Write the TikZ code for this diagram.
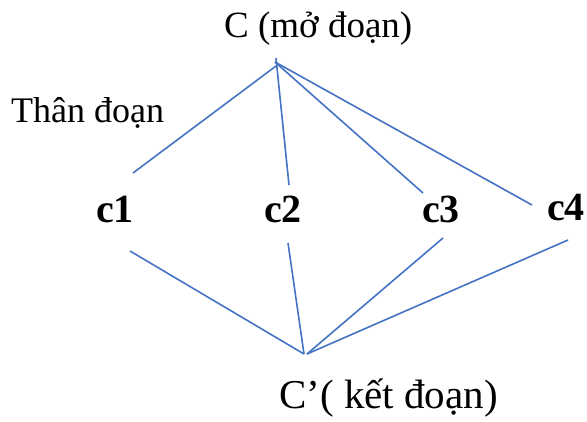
\documentclass[tikz,border=0pt]{standalone}
\usepackage{fontspec}
\setmainfont{Liberation Serif}
\definecolor{lineblue}{RGB}{68,114,196}
\begin{document}
\begin{tikzpicture}[x=1pt,y=-1pt,
  conn/.style={draw=lineblue,line width=1.6pt},
  lbl/.style={inner sep=0pt,anchor=base west,font=\fontsize{36}{40}\selectfont},
  cnode/.style={inner sep=0pt,anchor=base west,font=\fontsize{40}{46}\selectfont\bfseries}]
\useasboundingbox (0,0) rectangle (587,421);
% labels
\node[lbl,font=\fontsize{37}{42}\selectfont] (top) at (224,37) {C (mở đoạn)};
\node[lbl] (than) at (11,122) {Thân đoạn};
\node[lbl,font=\fontsize{41}{46}\selectfont] (bot) at (279,408) {C’( kết đoạn)};
\node[cnode] (c1) at (96,222) {c1};
\node[cnode] (c2) at (264,222) {c2};
\node[cnode] (c3) at (422,222) {c3};
\node[cnode] (c4) at (547,220) {c4};
% connector end points
\coordinate (t0) at (276,58);
\coordinate (t1) at (276,66);
\coordinate (t2) at (275,62);
\coordinate (a1) at (133,173);
\coordinate (a2) at (289,185);
\coordinate (a3) at (423,193);
\coordinate (a4) at (532,205);
\coordinate (b1) at (130,251);
\coordinate (b2) at (288,243);
\coordinate (b3) at (443,238);
\coordinate (b4) at (568,240);
\coordinate (bb) at (304,354);
\coordinate (bb2) at (307,354);
% connectors
\draw[conn] (t1) -- (a1);
\draw[conn] (t0) -- (a2);
\draw[conn] (t2) -- (a3);
\draw[conn] (t2) -- (a4);
\draw[conn] (b1) -- (bb);
\draw[conn] (b2) -- (bb);
\draw[conn] (b3) -- (bb2);
\draw[conn] (b4) -- (bb2);
\end{tikzpicture}
\end{document}
